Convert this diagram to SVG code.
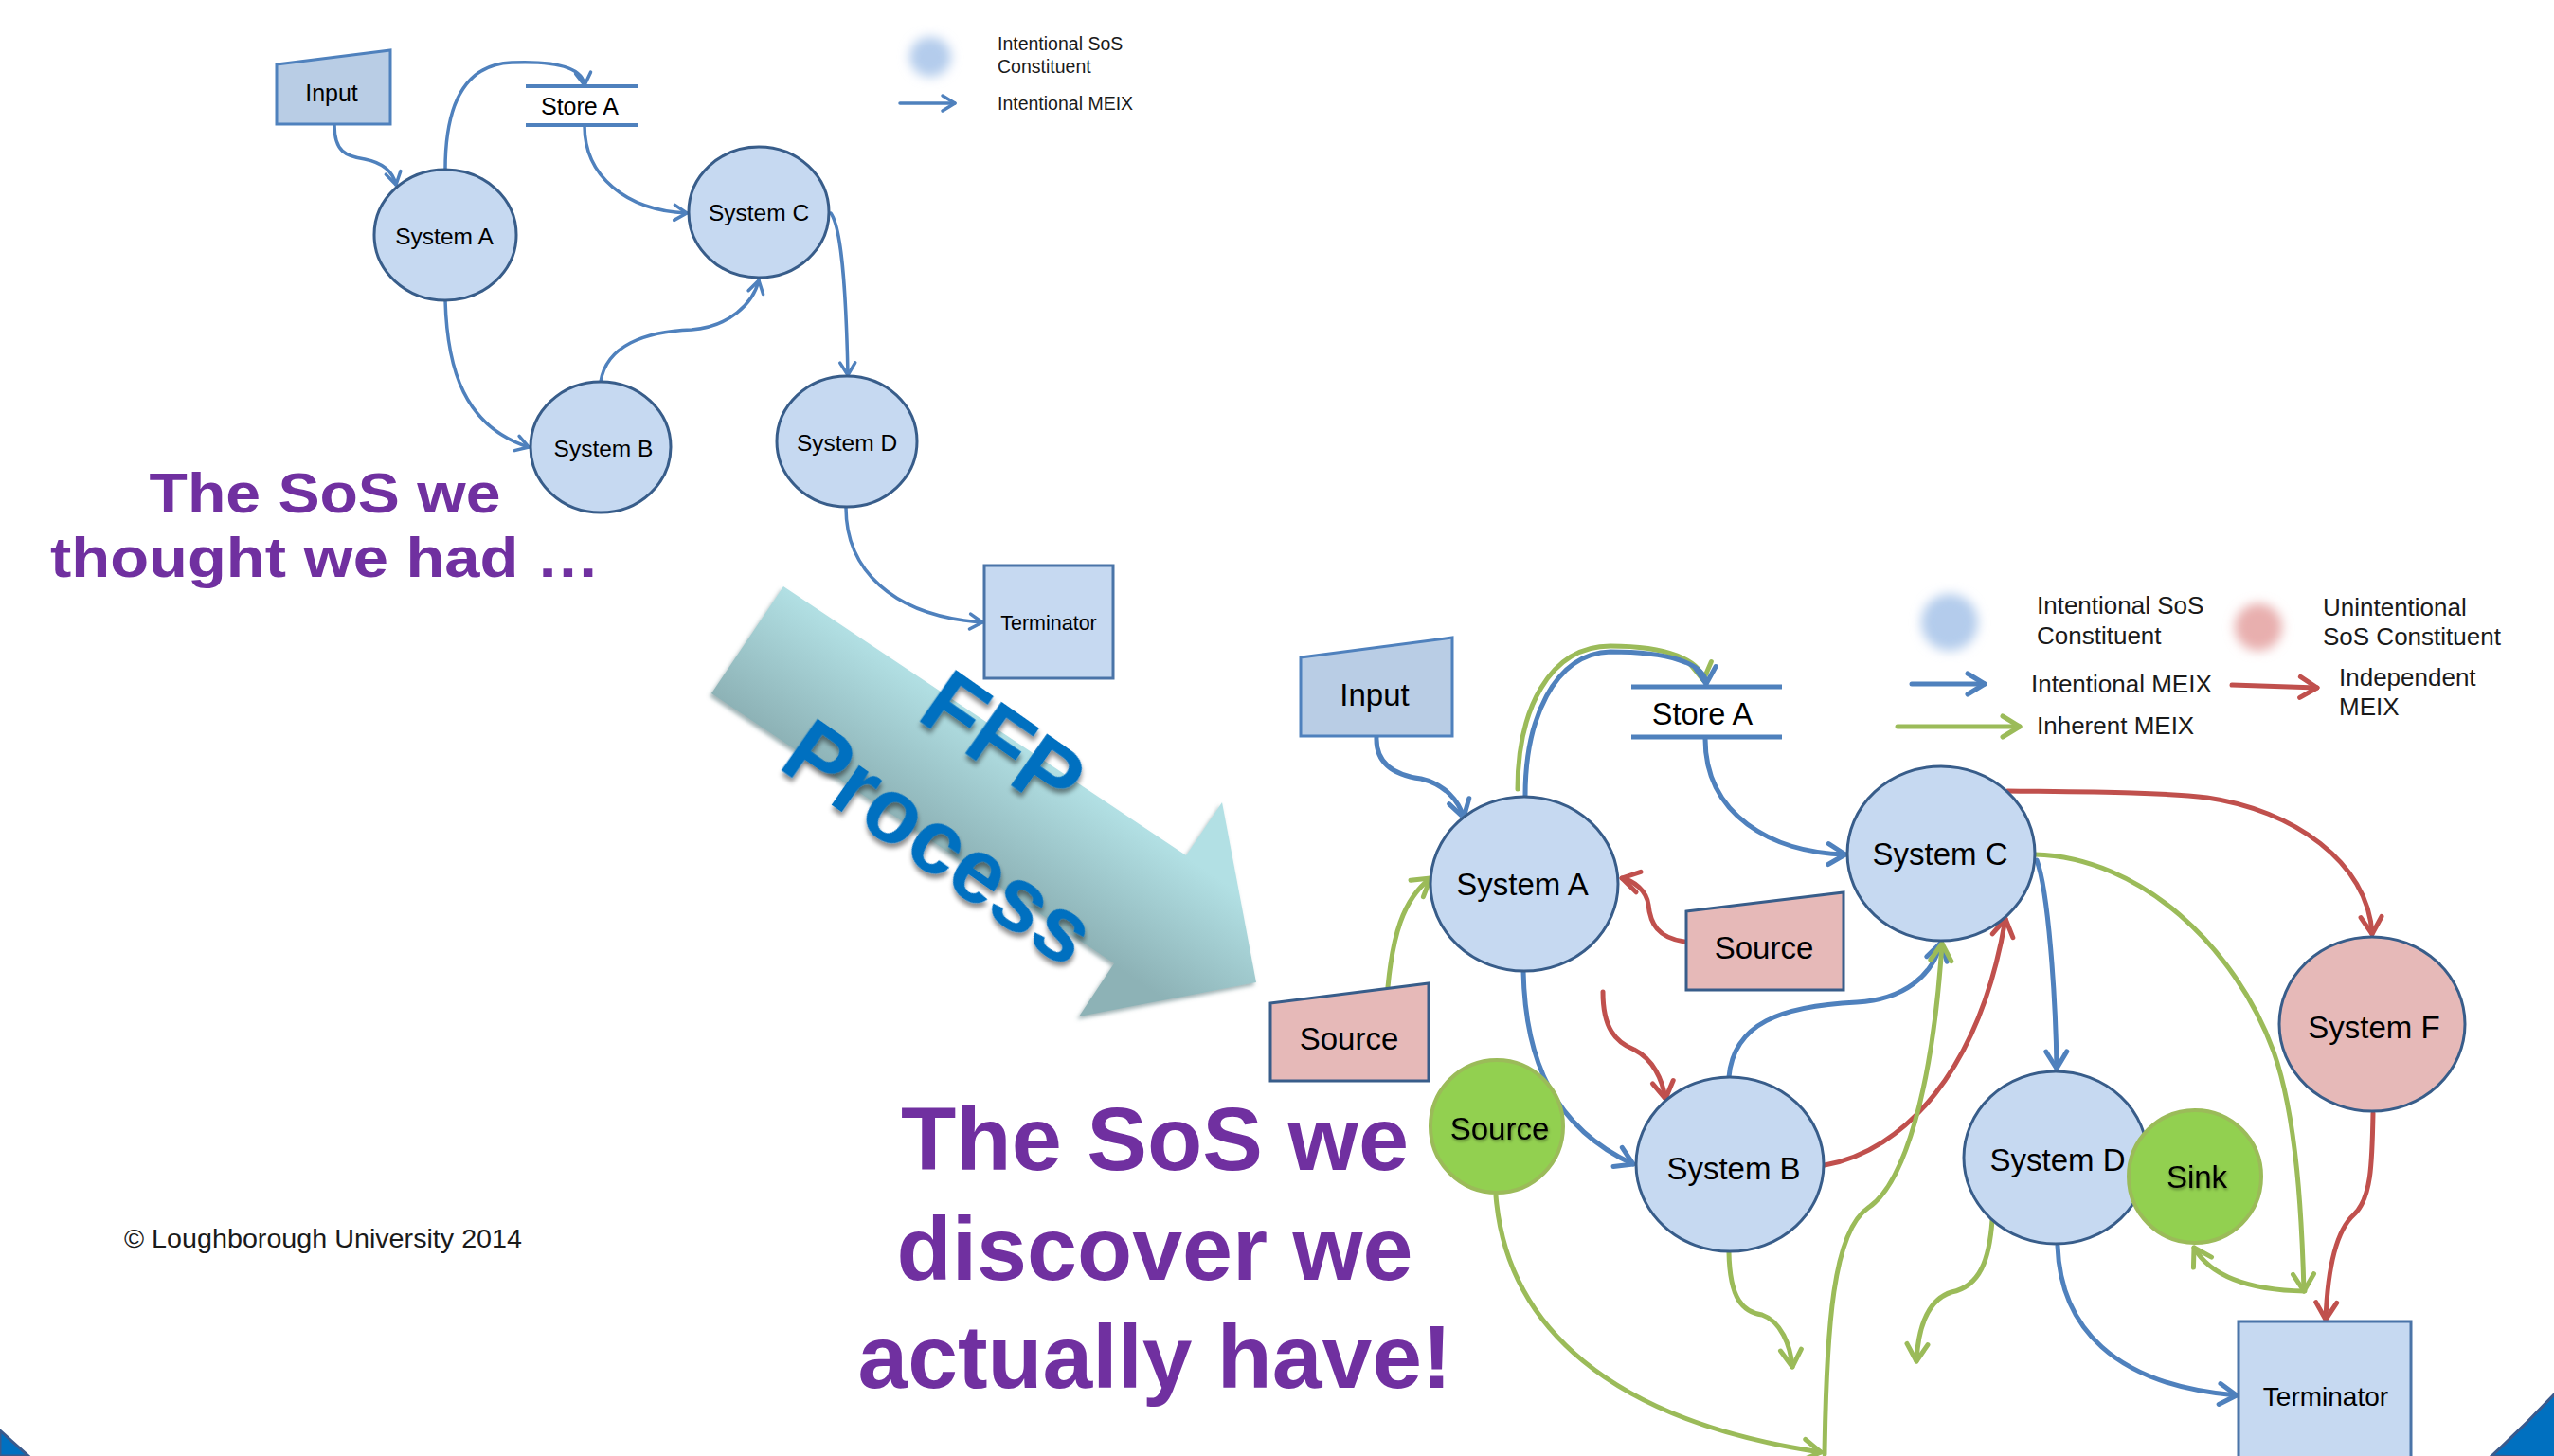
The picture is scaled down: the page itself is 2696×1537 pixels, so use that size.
<svg xmlns="http://www.w3.org/2000/svg" width="2696" height="1537" viewBox="0 0 2696 1537">
<defs>
<style>
.nb{fill:#C6D9F1;stroke:#385D8A;stroke-width:3}
.np{fill:#E6B9B8;stroke:#385D8A;stroke-width:3}
.ng{fill:#92D050;stroke:#9BBB59;stroke-width:4}
.ni{fill:#B9CDE5;stroke:#4F81BD;stroke-width:3}
.nt{fill:#C6D9F1;stroke:#4A74A8;stroke-width:3}
.st{stroke:#4F81BD;stroke-width:5;fill:none}
.st2{stroke:#4F81BD;stroke-width:4;fill:none}
.lbl{font-family:"Liberation Sans",Arial,Helvetica,sans-serif;fill:#000;text-anchor:middle}
.leg{font-family:"Liberation Sans",Arial,Helvetica,sans-serif;fill:#1a1a1a}
.head{font-family:"Liberation Sans",Arial,Helvetica,sans-serif;font-weight:bold;fill:#7030A0;text-anchor:middle}
.cb{fill:none;stroke:#4F81BD;stroke-width:5;stroke-linecap:round}
.cg{fill:none;stroke:#9BBB59;stroke-width:5;stroke-linecap:round}
.cr{fill:none;stroke:#C0504D;stroke-width:5;stroke-linecap:round}
.tb{fill:none;stroke:#4F81BD;stroke-width:3.5;stroke-linecap:round}
</style>
<marker id="ab" viewBox="-24 -16 30 32" refX="0" refY="0" markerWidth="30" markerHeight="32" orient="auto" markerUnits="userSpaceOnUse"><path d="M-18,-11 L0,0 L-18,11" fill="none" stroke="#4F81BD" stroke-width="5" stroke-linecap="round" stroke-linejoin="round"/></marker>
<marker id="ag" viewBox="-24 -16 30 32" refX="0" refY="0" markerWidth="30" markerHeight="32" orient="auto" markerUnits="userSpaceOnUse"><path d="M-18,-11 L0,0 L-18,11" fill="none" stroke="#9BBB59" stroke-width="5" stroke-linecap="round" stroke-linejoin="round"/></marker>
<marker id="ar" viewBox="-24 -16 30 32" refX="0" refY="0" markerWidth="30" markerHeight="32" orient="auto" markerUnits="userSpaceOnUse"><path d="M-18,-11 L0,0 L-18,11" fill="none" stroke="#C0504D" stroke-width="5" stroke-linecap="round" stroke-linejoin="round"/></marker>
<marker id="at" viewBox="-18 -12 22 24" refX="0" refY="0" markerWidth="22" markerHeight="24" orient="auto" markerUnits="userSpaceOnUse"><path d="M-13,-8 L0,0 L-13,8" fill="none" stroke="#4F81BD" stroke-width="3.5" stroke-linecap="round" stroke-linejoin="round"/></marker>
<linearGradient id="ffpG" gradientUnits="userSpaceOnUse" x1="1040" y1="761" x2="963" y2="875">
<stop offset="0" stop-color="#B2E0E4"/>
<stop offset="1" stop-color="#8DB2B6"/>
</linearGradient>
<filter id="blur" x="-50%" y="-50%" width="200%" height="200%"><feGaussianBlur stdDeviation="6"/></filter>
<filter id="tsh" x="-10%" y="-30%" width="120%" height="160%"><feDropShadow dx="1" dy="2" stdDeviation="1.5" flood-color="#000" flood-opacity="0.35"/></filter>
<filter id="fsh" x="-10%" y="-30%" width="130%" height="170%"><feDropShadow dx="3" dy="4" stdDeviation="2.5" flood-color="#000" flood-opacity="0.45"/></filter>
<filter id="ash" x="-10%" y="-10%" width="120%" height="120%"><feDropShadow dx="-2" dy="3" stdDeviation="2" flood-color="#5f7f82" flood-opacity="0.6"/></filter>
</defs>

<rect x="0" y="0" width="2696" height="1537" fill="#FFFFFF"/>

<!-- corner decorations -->
<path d="M0,1510 L30,1537 L0,1537 Z" fill="#0070C0" stroke="#3A5A8C" stroke-width="3"/>
<path d="M2630,1537 Q2665,1505 2698,1470 L2698,1539 Z" fill="#0070C0" stroke="#3A5A8C" stroke-width="3"/>

<!-- ===== Top-left diagram ===== -->
<g id="top-legend">
<ellipse cx="982" cy="60" rx="22" ry="21" fill="#B4CCEC" filter="url(#blur)"/>
<text class="leg" x="1053" y="53" font-size="19.5">Intentional SoS</text>
<text class="leg" x="1053" y="77" font-size="19.5">Constituent</text>
<line x1="950" y1="109" x2="1008" y2="109" class="tb" marker-end="url(#at)"/>
<text class="leg" x="1053" y="116" font-size="19.5">Intentional MEIX</text>
</g>

<g id="top-connectors">
<path class="tb" d="M353,132 C353,160 365,165 385,168 C405,172 415,182 418,195" marker-end="url(#at)"/>
<path class="tb" d="M470,179 C470,110 490,68 540,66 C590,64 615,72 617,90" marker-end="url(#at)"/>
<path class="tb" d="M617,133 C617,185 660,222 725,225" marker-end="url(#at)"/>
<path class="tb" d="M470,317 C472,390 490,450 558,472" marker-end="url(#at)"/>
<path class="tb" d="M634,403 C640,365 680,350 730,348 C770,345 795,320 801,296" marker-end="url(#at)"/>
<path class="tb" d="M877,225 C888,240 893,300 895,396" marker-end="url(#at)"/>
<path class="tb" d="M893,536 C893,600 940,650 1037,657" marker-end="url(#at)"/>
</g>

<g id="t-input">
<polygon class="ni" points="292,68 412,53 412,131 292,131" stroke-width="2.5"/>
<text class="lbl" x="350" y="107" font-size="25">Input</text>
</g>
<g id="t-storeA">
<line class="st2" x1="555" y1="91" x2="674" y2="91"/>
<line class="st2" x1="555" y1="132" x2="674" y2="132"/>
<text class="lbl" x="612" y="121" font-size="25">Store A</text>
</g>
<g id="t-systemA">
<ellipse class="nb" cx="470" cy="248" rx="75" ry="69" stroke-width="2.5"/>
<text class="lbl" x="469" y="258" font-size="24.5">System A</text>
</g>
<g id="t-systemC">
<ellipse class="nb" cx="801" cy="224" rx="74" ry="69" stroke-width="2.5"/>
<text class="lbl" x="801" y="233" font-size="24.5">System C</text>
</g>
<g id="t-systemB">
<ellipse class="nb" cx="634" cy="472" rx="74" ry="69" stroke-width="2.5"/>
<text class="lbl" x="637" y="482" font-size="24.5">System B</text>
</g>
<g id="t-systemD">
<ellipse class="nb" cx="894" cy="466" rx="74" ry="69" stroke-width="2.5"/>
<text class="lbl" x="894" y="476" font-size="24.5">System D</text>
</g>
<g id="t-terminator">
<rect class="nt" x="1039" y="597" width="136" height="119" stroke-width="2.5"/>
<text class="lbl" x="1107" y="665" font-size="21.5">Terminator</text>
</g>

<text class="head" x="343" y="541" font-size="60" textLength="371" lengthAdjust="spacingAndGlyphs">The SoS we</text>
<text class="head" x="343" y="609" font-size="60" textLength="580" lengthAdjust="spacingAndGlyphs">thought we had …</text>

<!-- ===== FFP arrow ===== -->
<g id="ffp-arrow">
<polygon points="827,619 1252,903 1290,847 1326,1037 1139,1073 1176,1017 751,732" fill="url(#ffpG)" filter="url(#ash)"/>
<g transform="translate(1026,835) rotate(35)" filter="url(#fsh)">
<text x="-3" y="-29" font-family="Liberation Sans,Arial,sans-serif" font-weight="bold" font-size="96" fill="#0070C0" text-anchor="middle">FFP</text>
<text x="3" y="97" font-family="Liberation Sans,Arial,sans-serif" font-weight="bold" font-size="96" fill="#0070C0" text-anchor="middle">Process</text>
</g>
</g>

<text class="leg" x="131" y="1317" font-size="28" textLength="420" lengthAdjust="spacingAndGlyphs" fill="#000">© Loughborough University 2014</text>

<text class="head" x="1219" y="1235" font-size="95" textLength="536" lengthAdjust="spacingAndGlyphs">The SoS we</text>
<text class="head" x="1219" y="1351" font-size="95" textLength="545" lengthAdjust="spacingAndGlyphs">discover we</text>
<text class="head" x="1219" y="1465" font-size="95" textLength="627" lengthAdjust="spacingAndGlyphs">actually have!</text>

<!-- ===== Bottom-right diagram ===== -->
<g id="legend">
<circle cx="2058" cy="657" r="30" fill="#B4CCEC" filter="url(#blur)"/>
<text class="leg" x="2150" y="648" font-size="26">Intentional SoS</text>
<text class="leg" x="2150" y="680" font-size="26">Constituent</text>
<circle cx="2384" cy="662" r="25" fill="#E8AFAE" filter="url(#blur)"/>
<text class="leg" x="2452" y="650" font-size="26">Unintentional</text>
<text class="leg" x="2452" y="681" font-size="26">SoS Constituent</text>
<line class="cb" x1="2018" y1="722" x2="2095" y2="722" marker-end="url(#ab)"/>
<text class="leg" x="2144" y="731" font-size="26">Intentional MEIX</text>
<line class="cr" x1="2356" y1="723" x2="2446" y2="726" marker-end="url(#ar)"/>
<text class="leg" x="2469" y="724" font-size="26">Independent</text>
<text class="leg" x="2469" y="755" font-size="26">MEIX</text>
<line class="cg" x1="2003" y1="767" x2="2132" y2="767" marker-end="url(#ag)"/>
<text class="leg" x="2150" y="775" font-size="26">Inherent MEIX</text>
</g>

<g id="connectors">
<!-- intentional (blue) -->
<path class="cb" d="M1453,778 C1452,805 1470,818 1500,822 C1525,828 1540,845 1545,863" marker-end="url(#ab)"/>
<path class="cg" d="M1602,833 C1602,750 1635,682 1700,682 C1760,682 1795,697 1798,718" marker-end="url(#ag)"/>
<path class="cb" d="M1610,840 C1610,760 1640,690 1700,688 C1760,688 1800,700 1801,722" marker-end="url(#ab)"/>
<path class="cb" d="M1800,780 C1800,860 1870,900 1948,902" marker-end="url(#ab)"/>
<path class="cb" d="M1608,1025 C1610,1120 1640,1190 1724,1229" marker-end="url(#ab)"/>
<path class="cb" d="M1825,1137 C1830,1080 1880,1062 1960,1058 C2010,1055 2040,1030 2049,995" marker-end="url(#ab)"/>
<path class="cb" d="M2150,908 C2162,940 2170,1050 2171,1128" marker-end="url(#ab)"/>
<path class="cb" d="M2172,1315 C2175,1400 2230,1462 2361,1473" marker-end="url(#ab)"/>
<!-- independent (red) -->
<path class="cr" d="M1778,994 C1750,990 1742,975 1740,955 C1738,940 1725,930 1712,927" marker-end="url(#ar)"/>
<path class="cr" d="M1692,1047 C1692,1085 1705,1100 1725,1108 C1745,1118 1755,1140 1758,1160" marker-end="url(#ar)"/>
<path class="cr" d="M1926,1230 C2010,1215 2090,1130 2117,970" marker-end="url(#ar)"/>
<path class="cr" d="M2119,835 C2200,836 2280,836 2330,842 C2420,855 2500,910 2504,986" marker-end="url(#ar)"/>
<path class="cr" d="M2505,1175 C2504,1230 2503,1265 2485,1282 C2465,1300 2457,1340 2455,1393" marker-end="url(#ar)"/>
<!-- inherent (green) -->
<path class="cg" d="M1465,1042 C1470,990 1480,950 1510,927" marker-end="url(#ag)"/>
<path class="cg" d="M2148,902 C2260,905 2360,1000 2400,1110 C2425,1180 2430,1290 2432,1363" marker-end="url(#ag)"/>
<path class="cg" d="M2433,1363 C2380,1362 2335,1350 2316,1317" marker-end="url(#ag)"/>
<path class="cg" d="M2103,1288 C2100,1330 2090,1358 2060,1364 C2035,1372 2025,1400 2023,1437" marker-end="url(#ag)"/>
<path class="cg" d="M1825,1322 C1826,1372 1840,1385 1860,1388 C1880,1395 1890,1420 1892,1443" marker-end="url(#ag)"/>
<path class="cg" d="M1579,1262 C1590,1400 1700,1500 1922,1533" marker-end="url(#ag)"/>
<path class="cg" d="M1926,1535 C1928,1400 1935,1300 1972,1275 C2010,1250 2040,1150 2050,996" marker-end="url(#ag)"/>
</g>

<g id="input">
<polygon class="ni" points="1373,694 1533,673 1533,777 1373,777"/>
<text class="lbl" x="1451" y="745" font-size="33">Input</text>
</g>
<g id="storeA">
<line class="st" x1="1722" y1="725" x2="1881" y2="725"/>
<line class="st" x1="1722" y1="778" x2="1881" y2="778"/>
<text class="lbl" x="1797" y="765" font-size="32.5">Store A</text>
</g>
<g id="systemA">
<ellipse class="nb" cx="1609" cy="933" rx="99" ry="92"/>
<text class="lbl" x="1607" y="945" font-size="33">System A</text>
</g>
<g id="systemC">
<ellipse class="nb" cx="2049" cy="901" rx="99" ry="92"/>
<text class="lbl" x="2048" y="913" font-size="33">System C</text>
</g>
<g id="source-mid">
<polygon class="np" points="1780,962 1946,942 1946,1045 1780,1045"/>
<text class="lbl" x="1862" y="1012" font-size="33">Source</text>
</g>
<g id="source-left">
<polygon class="np" points="1341,1059 1508,1038 1508,1141 1341,1141"/>
<text class="lbl" x="1424" y="1108" font-size="33">Source</text>
</g>
<g id="source-green">
<ellipse class="ng" cx="1580" cy="1189" rx="70" ry="70"/>
<text class="lbl" x="1583" y="1203" font-size="33" filter="url(#tsh)">Source</text>
</g>
<g id="systemB">
<ellipse class="nb" cx="1826" cy="1229" rx="99" ry="92"/>
<text class="lbl" x="1830" y="1245" font-size="33">System B</text>
</g>
<g id="systemD">
<ellipse class="nb" cx="2170" cy="1222" rx="97" ry="91"/>
<text class="lbl" x="2172" y="1236" font-size="33">System D</text>
</g>
<g id="sink">
<ellipse class="ng" cx="2317" cy="1242" rx="70" ry="70"/>
<text class="lbl" x="2319" y="1254" font-size="33" filter="url(#tsh)">Sink</text>
</g>
<g id="systemF">
<ellipse class="np" cx="2504" cy="1081" rx="98" ry="92"/>
<text class="lbl" x="2506" y="1096" font-size="33">System F</text>
</g>
<g id="terminator">
<rect class="nt" x="2363" y="1395" width="182" height="170"/>
<text class="lbl" x="2455" y="1484" font-size="28">Terminator</text>
</g>
</svg>
